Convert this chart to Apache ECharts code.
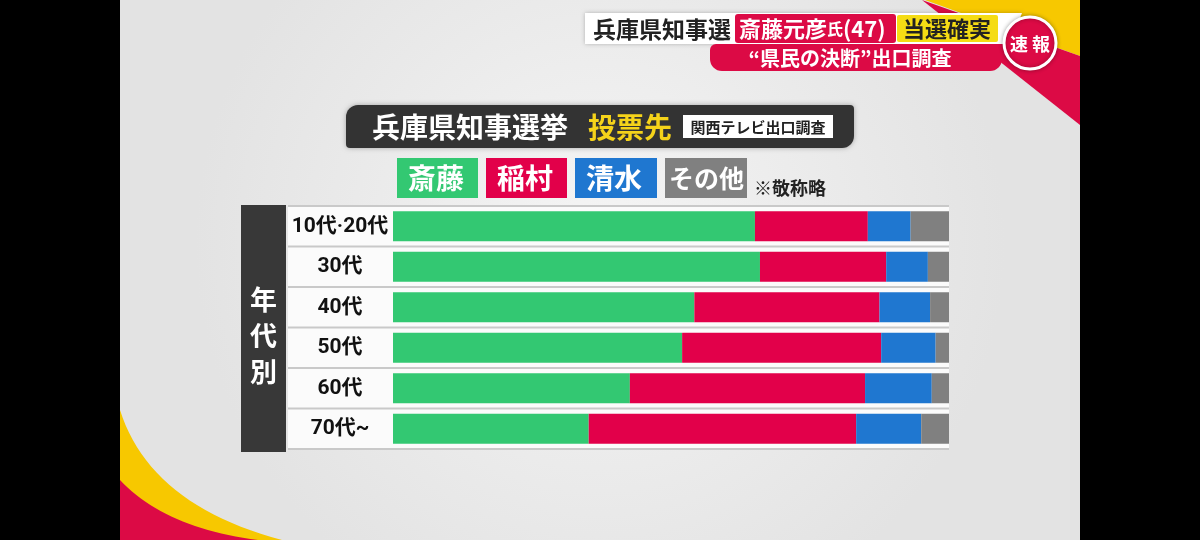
<!DOCTYPE html>
<html>
<head>
<meta charset="utf-8">
<script src="https://cdn.jsdelivr.net/npm/echarts@6/dist/echarts.min.js"></script>
<style>
html,body{margin:0;padding:0;background:#000;}
#chart{width:1200px;height:540px;}
</style>
</head>
<body>
<div id="chart"></div>
<script>
// ---- data (percent of vote) ----
const categories = ['10代·20代', '30代', '40代', '50代', '60代', '70代~'];
const seriesNames = ['斎藤', '稲村', '清水', 'その他'];
const saito    = [65.1, 66.0, 54.2, 52.0, 42.6, 35.2];
const inamura  = [20.3, 22.7, 33.3, 35.8, 42.3, 48.1];
const shimizu  = [ 7.7,  7.5,  9.1,  9.8, 12.0, 11.7];
const others   = [ 6.9,  3.8,  3.4,  2.4,  3.1,  5.0];
const seriesValues = [saito, inamura, shimizu, others];
const colors = ['#33c872', '#e2004a', '#1f77d0', '#808080'];

const FONT = '"Noto Sans CJK JP", "Noto Sans", sans-serif';
const LABEL_FONT = 'Roboto, "Noto Sans CJK JP", sans-serif';

const chart = echarts.init(document.getElementById('chart'), null, {renderer: 'canvas'});

// decorative curved wedge (quadratic curve) as polygon points
function wedge(p0, c, p1, corner) {
  const pts = [];
  for (let i = 0; i <= 24; i++) {
    const t = i / 24, u = 1 - t;
    pts.push([u * u * p0[0] + 2 * u * t * c[0] + t * t * p1[0],
              u * u * p0[1] + 2 * u * t * c[1] + t * t * p1[1]]);
  }
  pts.push(corner);
  return pts;
}

// row separator lines (layout only)
const gridTop = 206, gridBottom = 91, rows = categories.length;
const rowH = (540 - gridTop - gridBottom) / rows;
const sepLines = [];
for (let k = 0; k <= rows; k++) {
  const y = gridTop + rowH * k;
  sepLines.push({type: 'line', z: 1, shape: {x1: 288, y1: y, x2: 949, y2: y},
    style: {stroke: '#c9c9c9', lineWidth: 2}});
}

const legendWidths = [59, 59, 60, 74];
const legendSizes = [28, 28, 28, 25];
const legendPads = [[5, 11, 5, 11], [5, 11, 5, 11], [5, 11, 5, 11], [5, 4, 5, 4]];

const option = {
  backgroundColor: '#000',
  animation: false,
  textStyle: {fontFamily: FONT},
  graphic: {
    elements: [
      // studio background
      {type: 'rect', z: -10, shape: {x: 120, y: 0, width: 960, height: 540},
        style: {fill: {type: 'radial', x: 0.5, y: 0.45, r: 0.75,
          colorStops: [{offset: 0, color: '#f5f5f5'}, {offset: 1, color: '#e3e3e3'}]}}},
      // bottom-left decoration
      {type: 'polygon', z: -9, shape: {points: wedge([120, 410], [150, 505], [282, 540], [120, 540])},
        style: {fill: '#f7c800'}},
      {type: 'polygon', z: -8, shape: {points: wedge([120, 480], [165, 528], [258, 540], [120, 540])},
        style: {fill: '#dc0a45'}},
      // top-right decoration
      {type: 'polygon', z: -9, shape: {points: [[925, 0], [1080, 0], [1080, 56]]},
        style: {fill: '#f7c800'}},
      {type: 'polygon', z: -8, shape: {points: [[922, 0], [1080, 56], [1080, 125]]},
        style: {fill: '#dc0a45'}},
      // header strip
      {type: 'polygon', z: 1, shape: {points: [[585, 13], [1022, 13], [1010, 44], [585, 44]]},
        style: {fill: '#ffffff', shadowBlur: 4, shadowColor: 'rgba(0,0,0,0.25)'}},
      {type: 'rect', z: 2, shape: {x: 735, y: 14, width: 161, height: 29, r: 3}, style: {fill: '#dc0a45'}},
      {type: 'rect', z: 2, shape: {x: 897, y: 15, width: 101, height: 27, r: 2}, style: {fill: '#f5dc14'}},
      {type: 'rect', z: 2, shape: {x: 710, y: 44, width: 292, height: 27, r: [6, 0, 12, 12]}, style: {fill: '#dc0a45'}},
      {type: 'text', z: 3, x: 593, y: 29, style: {text: '兵庫県知事選', font: 'bold 23px ' + FONT, fill: '#222',
        textVerticalAlign: 'middle'}},
      {type: 'text', z: 3, x: 739, y: 29, style: {
        text: '{a|斎藤元彦}{b|氏}{a|(47)}', fill: '#fff', textVerticalAlign: 'middle',
        rich: {a: {fontSize: 22, fontWeight: 'bold', fill: '#fff', fontFamily: FONT},
               b: {fontSize: 16, fontWeight: 'bold', fill: '#fff', fontFamily: FONT}}}},
      {type: 'text', z: 3, x: 947, y: 29, style: {text: '当選確実', font: 'bold 22px ' + FONT, fill: '#222',
        textAlign: 'center', textVerticalAlign: 'middle'}},
      {type: 'text', z: 3, x: 850, y: 58, style: {text: '“県民の決断”出口調査', font: 'bold 20px ' + FONT, fill: '#fff',
        textAlign: 'center', textVerticalAlign: 'middle'}},
      // 速報 badge
      {type: 'circle', z: 4, shape: {cx: 1030, cy: 43, r: 26}, style: {fill: '#dc0a45', stroke: '#ffffff', lineWidth: 3,
        shadowBlur: 4, shadowColor: 'rgba(0,0,0,0.3)'}},
      {type: 'text', z: 5, x: 1030, y: 44, style: {text: '速 報', font: 'bold 18px ' + FONT, fill: '#fff',
        textAlign: 'center', textVerticalAlign: 'middle'}},
      // title bar
      {type: 'rect', z: 1, shape: {x: 346, y: 105, width: 508, height: 43, r: [12, 4, 12, 4]},
        style: {fill: '#333333', shadowBlur: 5, shadowColor: 'rgba(0,0,0,0.3)'}},
      {type: 'text', z: 2, x: 372, y: 127, style: {text: '兵庫県知事選挙', font: 'bold 28px ' + FONT, fill: '#ffffff',
        textVerticalAlign: 'middle'}},
      {type: 'text', z: 2, x: 588, y: 127, style: {text: '投票先', font: 'bold 28px ' + FONT, fill: '#f5d31a',
        textVerticalAlign: 'middle'}},
      {type: 'rect', z: 2, shape: {x: 683, y: 115, width: 150, height: 23}, style: {fill: '#ffffff'}},
      {type: 'text', z: 3, x: 758, y: 127, style: {text: '関西テレビ出口調査', font: 'bold 15px ' + FONT, fill: '#222',
        textAlign: 'center', textVerticalAlign: 'middle'}},
      {type: 'text', z: 2, x: 754, y: 188, style: {text: '※敬称略', font: 'bold 18px ' + FONT, fill: '#222',
        textVerticalAlign: 'middle'}},
      // row panel
      {type: 'rect', z: 0, shape: {x: 288, y: 205, width: 661, height: 245}, style: {fill: '#fbfbfb'}},
      ...sepLines,
      // 年代別 side box
      {type: 'rect', z: 1, shape: {x: 241, y: 205, width: 45, height: 247}, style: {fill: '#383838'}},
      {type: 'text', z: 2, x: 263.5, y: 336, style: {text: '年\n代\n別', font: 'bold 27px ' + FONT, fill: '#ffffff',
        lineHeight: 36, textAlign: 'center', textVerticalAlign: 'middle'}}
    ]
  },
  legend: {
    left: 392, top: 158, itemGap: 3, itemWidth: 0, itemHeight: 0, icon: 'rect', padding: 0,
    selectedMode: false, z: 10,
    data: seriesNames.map((n, i) => ({
      name: n,
      textStyle: {color: '#fff', fontWeight: 'bold', fontSize: legendSizes[i], fontFamily: FONT,
        backgroundColor: colors[i], width: legendWidths[i], align: 'center', overflow: 'none',
        lineHeight: 30, padding: legendPads[i]}
    }))
  },
  grid: {left: 393, right: 251, top: gridTop, bottom: gridBottom, containLabel: false},
  xAxis: {type: 'value', min: 0, max: 100, show: false},
  yAxis: {
    type: 'category', data: categories, inverse: true, z: 10,
    axisLine: {show: false}, axisTick: {show: false}, splitLine: {show: false},
    axisLabel: {margin: 53, align: 'center', fontSize: 21, color: '#111', fontWeight: 'bold', fontFamily: LABEL_FONT}
  },
  series: seriesNames.map((n, i) => ({
    name: n, type: 'bar', stack: 'total', barWidth: 30, silent: true,
    itemStyle: {color: colors[i]},
    emphasis: {disabled: true},
    data: seriesValues[i]
  }))
};
chart.setOption(option);
</script>
</body>
</html>
